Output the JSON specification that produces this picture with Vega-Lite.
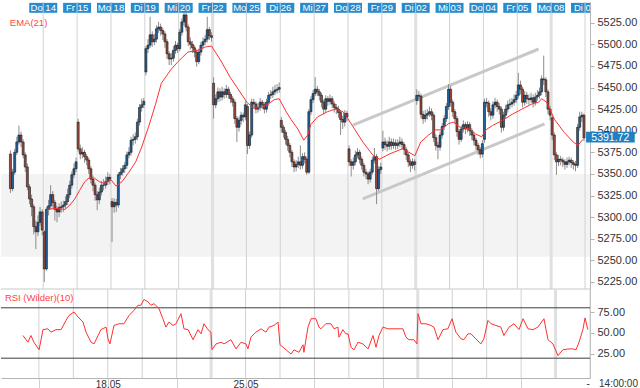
{
  "$schema": "https://vega.github.io/schema/vega-lite/v6.json",
  "padding": 0,
  "background": "white",
  "spacing": 0,
  "bounds": "flush",
  "config": {
    "view": {"stroke": null},
    "font": "Liberation Sans",
    "axis": {"labelFont": "Liberation Sans", "titleFont": "Liberation Sans", "labelOverlap": false, "labelSeparation": 0},
    "text": {"font": "Liberation Sans"}
  },
  "resolve": {"scale": {"x": "independent", "y": "independent"}},
  "datasets": {
    "days": [
      {"p": 15.5, "d": "Do 14"}, {"p": 31.5, "d": "Fr 15"}, {"p": 47.5, "d": "Mo 18"}, {"p": 63.5, "d": "Di 19"},
      {"p": 79.5, "d": "Mi 20"}, {"p": 95.5, "d": "Fr 22"}, {"p": 111.5, "d": "Mo 25"}, {"p": 127.5, "d": "Di 26"},
      {"p": 143.5, "d": "Mi 27"}, {"p": 159.5, "d": "Do 28"}, {"p": 175.5, "d": "Fr 29"}, {"p": 191.5, "d": "Di 02"},
      {"p": 207.5, "d": "Mi 03"}, {"p": 223.5, "d": "Do 04"}, {"p": 239.5, "d": "Fr 05"}, {"p": 255.5, "d": "Mo 08"},
      {"p": 271.5, "d": "Di 09"}
    ],
    "candles": [
      {"i":0,"o":5373,"h":5377,"l":5328,"c":5333},{"i":1,"o":5333,"h":5356,"l":5330,"c":5352},{"i":2,"o":5352,"h":5379,"l":5349,"c":5375},{"i":3,"o":5375,"h":5393,"l":5372,"c":5387},
      {"i":4,"o":5387,"h":5406,"l":5384,"c":5395},{"i":5,"o":5395,"h":5399,"l":5381,"c":5387},{"i":6,"o":5387,"h":5390,"l":5368,"c":5372},{"i":7,"o":5372,"h":5375,"l":5352,"c":5358},
      {"i":8,"o":5358,"h":5362,"l":5331,"c":5335},{"i":9,"o":5335,"h":5338,"l":5315,"c":5321},{"i":10,"o":5321,"h":5326,"l":5301,"c":5312},{"i":11,"o":5312,"h":5315,"l":5280,"c":5289},
      {"i":12,"o":5289,"h":5296,"l":5263,"c":5283},{"i":13,"o":5283,"h":5302,"l":5278,"c":5294},{"i":14,"o":5294,"h":5312,"l":5290,"c":5306},{"i":15,"o":5306,"h":5309,"l":5279,"c":5285},
      {"i":16,"o":5283,"h":5285,"l":5225,"c":5240},{"i":17,"o":5240,"h":5312,"l":5238,"c":5309},{"i":18,"o":5309,"h":5320,"l":5302,"c":5313},{"i":19,"o":5313,"h":5337,"l":5309,"c":5326},
      {"i":20,"o":5326,"h":5330,"l":5311,"c":5317},{"i":21,"o":5317,"h":5320,"l":5296,"c":5309},{"i":22,"o":5309,"h":5313,"l":5294,"c":5306},{"i":23,"o":5306,"h":5316,"l":5300,"c":5311},
      {"i":24,"o":5311,"h":5318,"l":5305,"c":5312},{"i":25,"o":5312,"h":5319,"l":5306,"c":5314},{"i":26,"o":5314,"h":5324,"l":5310,"c":5318},{"i":27,"o":5318,"h":5333,"l":5314,"c":5326},
      {"i":28,"o":5326,"h":5342,"l":5322,"c":5337},{"i":29,"o":5337,"h":5353,"l":5333,"c":5349},{"i":30,"o":5349,"h":5362,"l":5345,"c":5356},{"i":31,"o":5356,"h":5369,"l":5352,"c":5364},
      {"i":32,"o":5410,"h":5414,"l":5376,"c":5379},{"i":33,"o":5379,"h":5384,"l":5367,"c":5373},{"i":34,"o":5373,"h":5381,"l":5368,"c":5375},{"i":35,"o":5375,"h":5378,"l":5363,"c":5370},
      {"i":36,"o":5370,"h":5373,"l":5360,"c":5366},{"i":37,"o":5366,"h":5369,"l":5350,"c":5356},{"i":38,"o":5356,"h":5359,"l":5339,"c":5344},{"i":39,"o":5344,"h":5348,"l":5330,"c":5337},
      {"i":40,"o":5337,"h":5340,"l":5319,"c":5326},{"i":41,"o":5326,"h":5330,"l":5308,"c":5320},{"i":42,"o":5320,"h":5334,"l":5315,"c":5329},{"i":43,"o":5329,"h":5342,"l":5325,"c":5337},
      {"i":44,"o":5337,"h":5344,"l":5331,"c":5337},{"i":45,"o":5337,"h":5347,"l":5333,"c":5341},{"i":46,"o":5341,"h":5352,"l":5337,"c":5346},{"i":47,"o":5346,"h":5350,"l":5338,"c":5344},
      {"i":48,"o":5318,"h":5322,"l":5271,"c":5312},{"i":49,"o":5312,"h":5322,"l":5305,"c":5317},{"i":50,"o":5317,"h":5321,"l":5306,"c":5314},{"i":51,"o":5314,"h":5352,"l":5311,"c":5349},
      {"i":52,"o":5349,"h":5357,"l":5344,"c":5352},{"i":53,"o":5352,"h":5360,"l":5348,"c":5356},{"i":54,"o":5356,"h":5364,"l":5351,"c":5360},{"i":55,"o":5360,"h":5376,"l":5356,"c":5372},
      {"i":56,"o":5372,"h":5381,"l":5368,"c":5375},{"i":57,"o":5375,"h":5393,"l":5371,"c":5389},{"i":58,"o":5389,"h":5396,"l":5383,"c":5390},{"i":59,"o":5390,"h":5398,"l":5385,"c":5393},
      {"i":60,"o":5393,"h":5414,"l":5389,"c":5410},{"i":61,"o":5410,"h":5431,"l":5406,"c":5427},{"i":62,"o":5427,"h":5437,"l":5422,"c":5430},{"i":63,"o":5430,"h":5438,"l":5426,"c":5434},
      {"i":64,"o":5468,"h":5498,"l":5464,"c":5495},{"i":65,"o":5495,"h":5506,"l":5490,"c":5499},{"i":66,"o":5499,"h":5532,"l":5496,"c":5511},{"i":67,"o":5511,"h":5515,"l":5497,"c":5503},
      {"i":68,"o":5503,"h":5512,"l":5499,"c":5506},{"i":69,"o":5506,"h":5522,"l":5502,"c":5518},{"i":70,"o":5518,"h":5526,"l":5513,"c":5520},{"i":71,"o":5520,"h":5524,"l":5510,"c":5516},
      {"i":72,"o":5516,"h":5519,"l":5505,"c":5512},{"i":73,"o":5512,"h":5515,"l":5496,"c":5503},{"i":74,"o":5503,"h":5506,"l":5483,"c":5489},{"i":75,"o":5489,"h":5492,"l":5476,"c":5483},
      {"i":76,"o":5483,"h":5490,"l":5476,"c":5484},{"i":77,"o":5484,"h":5498,"l":5480,"c":5493},{"i":78,"o":5493,"h":5504,"l":5489,"c":5499},{"i":79,"o":5499,"h":5502,"l":5490,"c":5495},
      {"i":80,"o":5495,"h":5518,"l":5492,"c":5514},{"i":81,"o":5514,"h":5530,"l":5510,"c":5526},{"i":82,"o":5526,"h":5540,"l":5522,"c":5534},{"i":83,"o":5534,"h":5537,"l":5515,"c":5520},
      {"i":84,"o":5520,"h":5523,"l":5498,"c":5503},{"i":85,"o":5503,"h":5508,"l":5494,"c":5500},{"i":86,"o":5500,"h":5504,"l":5490,"c":5496},{"i":87,"o":5496,"h":5499,"l":5485,"c":5491},
      {"i":88,"o":5491,"h":5494,"l":5474,"c":5480},{"i":89,"o":5480,"h":5495,"l":5477,"c":5491},{"i":90,"o":5491,"h":5503,"l":5487,"c":5499},{"i":91,"o":5499,"h":5508,"l":5495,"c":5503},
      {"i":92,"o":5503,"h":5511,"l":5499,"c":5506},{"i":93,"o":5506,"h":5532,"l":5502,"c":5517},{"i":94,"o":5517,"h":5520,"l":5505,"c":5510},{"i":95,"o":5510,"h":5514,"l":5503,"c":5508},
      {"i":96,"o":5455,"h":5462,"l":5414,"c":5430},{"i":97,"o":5430,"h":5442,"l":5426,"c":5437},{"i":98,"o":5437,"h":5450,"l":5433,"c":5445},{"i":99,"o":5445,"h":5449,"l":5434,"c":5439},
      {"i":100,"o":5439,"h":5451,"l":5435,"c":5445},{"i":101,"o":5445,"h":5449,"l":5437,"c":5442},{"i":102,"o":5442,"h":5453,"l":5438,"c":5448},{"i":103,"o":5448,"h":5451,"l":5437,"c":5442},
      {"i":104,"o":5442,"h":5445,"l":5432,"c":5437},{"i":105,"o":5437,"h":5440,"l":5428,"c":5433},{"i":106,"o":5433,"h":5436,"l":5408,"c":5414},{"i":107,"o":5414,"h":5417,"l":5387,"c":5404},
      {"i":108,"o":5404,"h":5416,"l":5399,"c":5412},{"i":109,"o":5412,"h":5422,"l":5407,"c":5418},{"i":110,"o":5418,"h":5421,"l":5410,"c":5416},{"i":111,"o":5416,"h":5434,"l":5412,"c":5430},
      {"i":112,"o":5428,"h":5431,"l":5373,"c":5383},{"i":113,"o":5383,"h":5399,"l":5379,"c":5395},{"i":114,"o":5395,"h":5437,"l":5392,"c":5433},{"i":115,"o":5433,"h":5437,"l":5426,"c":5431},
      {"i":116,"o":5431,"h":5434,"l":5420,"c":5425},{"i":117,"o":5425,"h":5432,"l":5421,"c":5427},{"i":118,"o":5427,"h":5438,"l":5423,"c":5433},{"i":119,"o":5433,"h":5436,"l":5425,"c":5430},
      {"i":120,"o":5430,"h":5433,"l":5420,"c":5425},{"i":121,"o":5425,"h":5437,"l":5421,"c":5433},{"i":122,"o":5433,"h":5445,"l":5429,"c":5441},{"i":123,"o":5441,"h":5447,"l":5437,"c":5442},
      {"i":124,"o":5442,"h":5451,"l":5438,"c":5445},{"i":125,"o":5445,"h":5453,"l":5441,"c":5447},{"i":126,"o":5447,"h":5454,"l":5443,"c":5448},{"i":127,"o":5448,"h":5456,"l":5444,"c":5450},
      {"i":128,"o":5412,"h":5416,"l":5398,"c":5404},{"i":129,"o":5404,"h":5407,"l":5392,"c":5398},{"i":130,"o":5398,"h":5401,"l":5384,"c":5390},{"i":131,"o":5390,"h":5394,"l":5377,"c":5383},
      {"i":132,"o":5383,"h":5386,"l":5369,"c":5375},{"i":133,"o":5375,"h":5378,"l":5358,"c":5364},{"i":134,"o":5364,"h":5367,"l":5352,"c":5358},{"i":135,"o":5358,"h":5366,"l":5353,"c":5361},
      {"i":136,"o":5361,"h":5370,"l":5357,"c":5364},{"i":137,"o":5364,"h":5383,"l":5355,"c":5360},{"i":138,"o":5360,"h":5374,"l":5356,"c":5370},{"i":139,"o":5370,"h":5375,"l":5362,"c":5367},
      {"i":140,"o":5367,"h":5370,"l":5349,"c":5352},{"i":141,"o":5352,"h":5425,"l":5350,"c":5422},{"i":142,"o":5422,"h":5440,"l":5418,"c":5436},{"i":143,"o":5436,"h":5447,"l":5432,"c":5443},
      {"i":144,"o":5443,"h":5462,"l":5440,"c":5448},{"i":145,"o":5448,"h":5452,"l":5440,"c":5445},{"i":146,"o":5445,"h":5448,"l":5435,"c":5441},{"i":147,"o":5441,"h":5444,"l":5427,"c":5433},
      {"i":148,"o":5433,"h":5436,"l":5419,"c":5425},{"i":149,"o":5425,"h":5441,"l":5421,"c":5437},{"i":150,"o":5437,"h":5440,"l":5429,"c":5434},{"i":151,"o":5434,"h":5442,"l":5430,"c":5437},
      {"i":152,"o":5437,"h":5440,"l":5426,"c":5431},{"i":153,"o":5431,"h":5434,"l":5421,"c":5427},{"i":154,"o":5427,"h":5431,"l":5419,"c":5425},{"i":155,"o":5425,"h":5429,"l":5415,"c":5421},
      {"i":156,"o":5421,"h":5424,"l":5395,"c":5413},{"i":157,"o":5413,"h":5417,"l":5402,"c":5410},{"i":158,"o":5410,"h":5424,"l":5405,"c":5420},{"i":159,"o":5420,"h":5423,"l":5411,"c":5416},
      {"i":160,"o":5379,"h":5383,"l":5359,"c":5364},{"i":161,"o":5364,"h":5367,"l":5347,"c":5360},{"i":162,"o":5360,"h":5369,"l":5355,"c":5364},{"i":163,"o":5364,"h":5377,"l":5360,"c":5372},
      {"i":164,"o":5372,"h":5380,"l":5368,"c":5375},{"i":165,"o":5375,"h":5378,"l":5362,"c":5367},{"i":166,"o":5367,"h":5370,"l":5355,"c":5360},{"i":167,"o":5360,"h":5363,"l":5347,"c":5352},
      {"i":168,"o":5352,"h":5356,"l":5344,"c":5350},{"i":169,"o":5350,"h":5353,"l":5338,"c":5344},{"i":170,"o":5344,"h":5356,"l":5340,"c":5352},{"i":171,"o":5352,"h":5370,"l":5349,"c":5366},
      {"i":172,"o":5366,"h":5380,"l":5362,"c":5370},{"i":173,"o":5370,"h":5373,"l":5315,"c":5333},{"i":174,"o":5333,"h":5359,"l":5330,"c":5355},{"i":175,"o":5355,"h":5363,"l":5350,"c":5358},
      {"i":176,"o":5380,"h":5400,"l":5376,"c":5387},{"i":177,"o":5387,"h":5392,"l":5378,"c":5384},{"i":178,"o":5384,"h":5389,"l":5376,"c":5382},{"i":179,"o":5382,"h":5393,"l":5378,"c":5387},
      {"i":180,"o":5387,"h":5391,"l":5378,"c":5383},{"i":181,"o":5383,"h":5391,"l":5379,"c":5386},{"i":182,"o":5386,"h":5390,"l":5378,"c":5383},{"i":183,"o":5383,"h":5390,"l":5379,"c":5385},
      {"i":184,"o":5385,"h":5393,"l":5381,"c":5387},{"i":185,"o":5387,"h":5391,"l":5379,"c":5384},{"i":186,"o":5384,"h":5387,"l":5372,"c":5378},{"i":187,"o":5378,"h":5381,"l":5366,"c":5372},
      {"i":188,"o":5372,"h":5375,"l":5358,"c":5364},{"i":189,"o":5364,"h":5367,"l":5352,"c":5360},{"i":190,"o":5360,"h":5368,"l":5356,"c":5364},{"i":191,"o":5364,"h":5367,"l":5354,"c":5361},
      {"i":192,"o":5435,"h":5448,"l":5430,"c":5441},{"i":193,"o":5441,"h":5446,"l":5434,"c":5440},{"i":194,"o":5440,"h":5443,"l":5414,"c":5419},{"i":195,"o":5419,"h":5423,"l":5408,"c":5414},
      {"i":196,"o":5414,"h":5424,"l":5410,"c":5418},{"i":197,"o":5418,"h":5425,"l":5413,"c":5420},{"i":198,"o":5420,"h":5428,"l":5416,"c":5422},{"i":199,"o":5422,"h":5426,"l":5412,"c":5418},
      {"i":200,"o":5418,"h":5421,"l":5387,"c":5392},{"i":201,"o":5392,"h":5396,"l":5377,"c":5383},{"i":202,"o":5383,"h":5387,"l":5367,"c":5381},{"i":203,"o":5381,"h":5399,"l":5377,"c":5395},
      {"i":204,"o":5395,"h":5409,"l":5391,"c":5405},{"i":205,"o":5405,"h":5418,"l":5401,"c":5414},{"i":206,"o":5414,"h":5432,"l":5410,"c":5428},{"i":207,"o":5428,"h":5454,"l":5424,"c":5448},
      {"i":208,"o":5448,"h":5452,"l":5428,"c":5433},{"i":209,"o":5433,"h":5436,"l":5416,"c":5422},{"i":210,"o":5422,"h":5425,"l":5408,"c":5414},{"i":211,"o":5414,"h":5417,"l":5393,"c":5399},
      {"i":212,"o":5399,"h":5402,"l":5384,"c":5390},{"i":213,"o":5390,"h":5406,"l":5387,"c":5402},{"i":214,"o":5402,"h":5412,"l":5398,"c":5407},{"i":215,"o":5407,"h":5410,"l":5396,"c":5402},
      {"i":216,"o":5402,"h":5411,"l":5398,"c":5407},{"i":217,"o":5407,"h":5410,"l":5394,"c":5400},{"i":218,"o":5400,"h":5403,"l":5389,"c":5395},{"i":219,"o":5395,"h":5398,"l":5383,"c":5389},
      {"i":220,"o":5389,"h":5392,"l":5377,"c":5383},{"i":221,"o":5383,"h":5386,"l":5372,"c":5378},{"i":222,"o":5378,"h":5381,"l":5368,"c":5373},{"i":223,"o":5373,"h":5389,"l":5369,"c":5385},
      {"i":224,"o":5390,"h":5437,"l":5386,"c":5433},{"i":225,"o":5433,"h":5438,"l":5427,"c":5432},{"i":226,"o":5432,"h":5435,"l":5416,"c":5422},{"i":227,"o":5422,"h":5426,"l":5412,"c":5418},
      {"i":228,"o":5418,"h":5434,"l":5414,"c":5430},{"i":229,"o":5430,"h":5438,"l":5426,"c":5433},{"i":230,"o":5433,"h":5436,"l":5422,"c":5428},{"i":231,"o":5428,"h":5432,"l":5419,"c":5425},
      {"i":232,"o":5425,"h":5428,"l":5398,"c":5404},{"i":233,"o":5404,"h":5422,"l":5400,"c":5418},{"i":234,"o":5418,"h":5430,"l":5414,"c":5425},{"i":235,"o":5425,"h":5435,"l":5421,"c":5430},
      {"i":236,"o":5430,"h":5437,"l":5425,"c":5431},{"i":237,"o":5431,"h":5438,"l":5427,"c":5433},{"i":238,"o":5433,"h":5442,"l":5429,"c":5436},{"i":239,"o":5436,"h":5446,"l":5432,"c":5441},
      {"i":240,"o":5441,"h":5467,"l":5437,"c":5453},{"i":241,"o":5453,"h":5458,"l":5442,"c":5448},{"i":242,"o":5448,"h":5451,"l":5427,"c":5433},{"i":243,"o":5433,"h":5446,"l":5429,"c":5441},
      {"i":244,"o":5441,"h":5445,"l":5431,"c":5437},{"i":245,"o":5437,"h":5442,"l":5430,"c":5436},{"i":246,"o":5436,"h":5444,"l":5432,"c":5438},{"i":247,"o":5438,"h":5442,"l":5427,"c":5433},
      {"i":248,"o":5433,"h":5444,"l":5429,"c":5439},{"i":249,"o":5439,"h":5447,"l":5435,"c":5441},{"i":250,"o":5441,"h":5450,"l":5437,"c":5445},{"i":251,"o":5445,"h":5464,"l":5441,"c":5460},
      {"i":252,"o":5460,"h":5487,"l":5453,"c":5459},{"i":253,"o":5459,"h":5462,"l":5439,"c":5445},{"i":254,"o":5445,"h":5448,"l":5419,"c":5425},{"i":255,"o":5425,"h":5429,"l":5412,"c":5418},
      {"i":256,"o":5415,"h":5418,"l":5389,"c":5395},{"i":257,"o":5395,"h":5398,"l":5366,"c":5372},{"i":258,"o":5372,"h":5375,"l":5349,"c":5364},{"i":259,"o":5364,"h":5372,"l":5359,"c":5367},
      {"i":260,"o":5367,"h":5371,"l":5360,"c":5366},{"i":261,"o":5366,"h":5369,"l":5358,"c":5364},{"i":262,"o":5364,"h":5367,"l":5355,"c":5361},{"i":263,"o":5361,"h":5369,"l":5357,"c":5364},
      {"i":264,"o":5364,"h":5370,"l":5360,"c":5366},{"i":265,"o":5366,"h":5369,"l":5357,"c":5363},{"i":266,"o":5363,"h":5366,"l":5355,"c":5361},{"i":267,"o":5361,"h":5365,"l":5353,"c":5360},
      {"i":268,"o":5360,"h":5408,"l":5357,"c":5404},{"i":269,"o":5404,"h":5422,"l":5400,"c":5416},{"i":270,"o":5416,"h":5422,"l":5410,"c":5418},{"i":271,"o":5418,"h":5420,"l":5388,"c":5391.72}
    ],
    "ema": [
      {"i":17.4,"v":5309},{"i":21.1,"v":5310},{"i":25.8,"v":5309},{"i":28.1,"v":5314},{"i":30.4,"v":5321},{"i":32.7,"v":5331},{"i":35.1,"v":5341},{"i":37.4,"v":5346},
      {"i":39.7,"v":5345},{"i":42.0,"v":5341},{"i":44.3,"v":5339},{"i":47.6,"v":5343},{"i":49.9,"v":5336},{"i":52.7,"v":5341},{"i":56.0,"v":5352},{"i":59.2,"v":5364},
      {"i":62.0,"v":5381},{"i":65.2,"v":5404},{"i":68.5,"v":5430},{"i":71.3,"v":5455},{"i":75.9,"v":5471},{"i":79.2,"v":5480},{"i":83.8,"v":5491},{"i":88.5,"v":5493},
      {"i":92.2,"v":5497},{"i":95.0,"v":5498},{"i":99.2,"v":5482},{"i":103.8,"v":5462},{"i":107.1,"v":5450},{"i":111.7,"v":5433},{"i":114.9,"v":5426},{"i":118.7,"v":5427},
      {"i":121.9,"v":5431},{"i":124.7,"v":5436},{"i":127.0,"v":5437},{"i":130.3,"v":5422},{"i":132.6,"v":5413},{"i":135.8,"v":5402},{"i":138.6,"v":5389},{"i":140.5,"v":5395},
      {"i":141.9,"v":5407},{"i":145.1,"v":5416},{"i":149.8,"v":5422},{"i":153.5,"v":5425},{"i":157.2,"v":5422},{"i":160.5,"v":5410},{"i":166.5,"v":5387},{"i":171.2,"v":5372},
      {"i":174.4,"v":5367},{"i":179.0,"v":5373},{"i":185.1,"v":5379},{"i":188.3,"v":5375},{"i":191.1,"v":5371},{"i":193.9,"v":5387},{"i":197.6,"v":5395},{"i":200.9,"v":5401},
      {"i":203.2,"v":5401},{"i":206.9,"v":5408},{"i":209.2,"v":5410},{"i":212.5,"v":5404},{"i":217.1,"v":5402},{"i":219.9,"v":5396},{"i":222.7,"v":5393},{"i":224.6,"v":5401},
      {"i":227.8,"v":5406},{"i":232.5,"v":5412},{"i":237.1,"v":5419},{"i":241.7,"v":5425},{"i":246.4,"v":5431},{"i":249.6,"v":5433},{"i":251.0,"v":5437},{"i":253.4,"v":5433},
      {"i":257.1,"v":5413},{"i":261.7,"v":5398},{"i":265.9,"v":5387},{"i":268.2,"v":5383},{"i":270.5,"v":5390}
    ],
    "rsi": [
      {"i":8.1,"r":47},{"i":10.4,"r":39},{"i":11.8,"r":47},{"i":13.2,"r":39},{"i":15.6,"r":30},{"i":17.4,"r":54},{"i":19.7,"r":55},{"i":21.1,"r":51},
      {"i":23.4,"r":54},{"i":25.8,"r":54},{"i":28.1,"r":65},{"i":29.5,"r":71},{"i":31.8,"r":75},{"i":33.7,"r":69},{"i":36.0,"r":63},{"i":37.4,"r":51},
      {"i":39.7,"r":39},{"i":41.1,"r":37},{"i":43.0,"r":47},{"i":44.3,"r":54},{"i":46.7,"r":57},{"i":47.6,"r":43},{"i":48.5,"r":37},{"i":50.4,"r":59},
      {"i":52.7,"r":61},{"i":55.0,"r":61},{"i":57.4,"r":71},{"i":59.7,"r":77},{"i":61.5,"r":83},{"i":62.9,"r":83},{"i":64.3,"r":90},{"i":66.2,"r":87},
      {"i":67.6,"r":83},{"i":69.0,"r":85},{"i":71.3,"r":79},{"i":73.1,"r":67},{"i":74.5,"r":57},{"i":75.9,"r":63},{"i":77.8,"r":59},{"i":79.2,"r":61},
      {"i":81.5,"r":73},{"i":82.9,"r":55},{"i":84.8,"r":54},{"i":87.1,"r":42},{"i":89.4,"r":54},{"i":90.8,"r":49},{"i":92.2,"r":61},{"i":94.0,"r":54},
      {"i":95.4,"r":51},{"i":95.9,"r":30},{"i":97.8,"r":37},{"i":100.1,"r":39},{"i":101.5,"r":37},{"i":104.7,"r":42},{"i":107.1,"r":31},{"i":109.4,"r":39},
      {"i":111.7,"r":37},{"i":112.6,"r":31},{"i":114.0,"r":45},{"i":116.3,"r":51},{"i":118.7,"r":55},{"i":121.0,"r":51},{"i":122.4,"r":57},{"i":124.7,"r":59},
      {"i":126.6,"r":63},{"i":127.5,"r":36},{"i":130.3,"r":30},{"i":132.6,"r":25},{"i":134.0,"r":30},{"i":136.3,"r":27},{"i":138.2,"r":36},{"i":138.6,"r":27},
      {"i":140.5,"r":57},{"i":141.9,"r":67},{"i":144.2,"r":67},{"i":145.6,"r":57},{"i":146.5,"r":55},{"i":148.8,"r":61},{"i":151.2,"r":61},{"i":152.6,"r":55},
      {"i":154.4,"r":57},{"i":154.9,"r":45},{"i":156.7,"r":54},{"i":158.1,"r":49},{"i":159.1,"r":49},{"i":160.5,"r":33},{"i":161.9,"r":30},{"i":163.7,"r":39},
      {"i":166.0,"r":37},{"i":168.4,"r":31},{"i":170.7,"r":47},{"i":172.1,"r":33},{"i":173.5,"r":47},{"i":175.3,"r":57},{"i":177.6,"r":55},{"i":180.0,"r":55},
      {"i":182.3,"r":55},{"i":184.6,"r":55},{"i":186.0,"r":45},{"i":187.4,"r":42},{"i":189.7,"r":42},{"i":191.1,"r":37},{"i":191.6,"r":73},{"i":193.0,"r":61},
      {"i":195.3,"r":61},{"i":197.6,"r":59},{"i":199.0,"r":57},{"i":200.9,"r":42},{"i":203.2,"r":54},{"i":205.5,"r":55},{"i":207.4,"r":67},{"i":209.2,"r":51},
      {"i":211.6,"r":43},{"i":212.9,"r":42},{"i":214.8,"r":49},{"i":216.2,"r":49},{"i":218.5,"r":43},{"i":220.8,"r":37},{"i":222.2,"r":43},{"i":224.1,"r":65},
      {"i":225.5,"r":61},{"i":227.8,"r":59},{"i":230.1,"r":57},{"i":231.5,"r":47},{"i":233.9,"r":57},{"i":236.2,"r":61},{"i":238.5,"r":54},{"i":240.4,"r":67},
      {"i":242.7,"r":55},{"i":245.0,"r":54},{"i":247.3,"r":57},{"i":250.1,"r":67},{"i":252.0,"r":42},{"i":254.3,"r":37},{"i":256.6,"r":23},{"i":258.9,"r":30},
      {"i":261.3,"r":31},{"i":263.6,"r":31},{"i":265.0,"r":30},{"i":266.4,"r":39},{"i":268.2,"r":54},{"i":269.2,"r":68},{"i":270.5,"r":54}
    ]
  },
  "vconcat": [
    {
      "width": 589,
      "height": 287,
      "encoding": {
        "y": {"type": "quantitative",
              "scale": {"domain": [5216.8, 5549], "nice": false, "zero": false},
              "axis": {"orient": "right", "values": [5225,5250,5275,5300,5325,5350,5375,5400,5425,5450,5475,5500,5525],
                       "format": ".2f", "title": null, "grid": false, "domainColor": "#b4b4b4", "tickColor": "#b4b4b4",
                       "tickSize": 4, "labelPadding": 3, "labelFontSize": 11, "labelColor": "#333333",
                       "labelOverlap": false, "labelSeparation": 0}},
        "x": {"type": "quantitative",
              "scale": {"domain": [-2.1, 271.5], "nice": false, "zero": false},
              "axis": null}
      },
      "layer": [
        {
          "data": {"values": [{"lo": 5254, "hi": 5350}]},
          "mark": {"type": "rect", "color": "#f3f3f3"},
          "encoding": {
            "x": null,
            "y": {"field": "lo"},
            "y2": {"field": "hi"}
          }
        },
        {
          "data": {"name": "days"},
          "mark": {"type": "rule"},
          "encoding": {
            "x": {"field": "p"},
            "y": null,
            "color": {"condition": {"test": "datum.p == 95.5 || datum.p == 191.5 || datum.p == 255.5", "value": "#e0e0e0"}, "value": "#d2d2d2"},
            "strokeWidth": {"condition": {"test": "datum.p == 95.5 || datum.p == 191.5 || datum.p == 255.5", "value": 3}, "value": 1}
          }
        },
        {
          "data": {"values": [{"b": 5216.8}]},
          "mark": {"type": "rule", "color": "#c8c8c8", "strokeWidth": 1},
          "encoding": {"x": null, "y": {"field": "b"}}
        },
        {
          "data": {"values": [
            {"i": 161.9, "p": 5406.6, "g": "oben"}, {"i": 249.6, "p": 5494.6, "g": "oben"},
            {"i": 166.5, "p": 5321, "g": "unten"}, {"i": 252.4, "p": 5407.8, "g": "unten"}
          ]},
          "mark": {"type": "line", "color": "#c8c8c8", "strokeWidth": 3},
          "encoding": {
            "x": {"field": "i"},
            "y": {"field": "p"},
            "detail": {"field": "g"}
          }
        },
        {
          "data": {"name": "candles"},
          "mark": {"type": "rule", "color": "#8c8c8c", "strokeWidth": 1},
          "encoding": {
            "x": {"field": "i"},
            "y": {"field": "l"},
            "y2": {"field": "h"}
          }
        },
        {
          "data": {"name": "candles"},
          "mark": {"type": "bar", "width": 2, "stroke": "#151515", "strokeWidth": 0.6},
          "encoding": {
            "x": {"field": "i"},
            "y": {"field": "o"},
            "y2": {"field": "c"},
            "color": {"condition": {"test": "datum.c >= datum.o", "value": "#1f639e"}, "value": "#9e4a3d"}
          }
        },
        {
          "data": {"name": "ema"},
          "mark": {"type": "line", "color": "#ff3030", "strokeWidth": 1},
          "encoding": {
            "x": {"field": "i"},
            "y": {"field": "v"}
          }
        },
        {
          "data": {"values": [{"i": -0.3, "p": 5524.6, "t": "EMA(21)"}]},
          "mark": {"type": "text", "align": "left", "baseline": "middle", "color": "#ff4545", "fontSize": 9.5},
          "encoding": {
            "x": {"field": "i"},
            "y": {"field": "p"},
            "text": {"field": "t"}
          }
        },
        {
          "data": {"name": "days"},
          "mark": {"type": "bar", "width": 28, "color": "#298bcb", "clip": true},
          "encoding": {
            "x": {"field": "p"},
            "y": {"datum": 5548},
            "y2": {"datum": 5536.5}
          }
        },
        {
          "data": {"name": "days"},
          "mark": {"type": "rule", "color": "#b9d3e6", "clip": true},
          "encoding": {
            "x": {"field": "p"},
            "y": {"datum": 5548},
            "y2": {"datum": 5536.5}
          }
        },
        {
          "data": {"name": "days"},
          "mark": {"type": "text", "color": "white", "fontSize": 9.5, "baseline": "middle", "clip": true},
          "encoding": {
            "x": {"field": "p"},
            "y": {"datum": 5542.3},
            "text": {"field": "d"}
          }
        },
        {
          "data": {"values": [{"a": 1}]},
          "mark": {"type": "rect", "color": "#1f80c2"},
          "encoding": {
            "x": {"datum": 272},
            "x2": {"datum": 295},
            "y": {"datum": 5386.3},
            "y2": {"datum": 5398.8}
          }
        },
        {
          "data": {"name": "candles"},
          "transform": [{"filter": "datum.i == 271"}],
          "mark": {"type": "text", "align": "left", "baseline": "middle", "color": "white", "fontSize": 10.5},
          "encoding": {
            "x": {"datum": 274.5},
            "y": {"field": "c"},
            "text": {"field": "c", "type": "quantitative", "format": ".2f"}
          }
        }
      ]
    },
    {
      "width": 589,
      "height": 89,
      "layer": [
        {
          "data": {"name": "days"},
          "mark": {"type": "rule"},
          "encoding": {
            "x": {"field": "p", "type": "quantitative"},
            "color": {"condition": {"test": "datum.p == 95.5 || datum.p == 191.5 || datum.p == 255.5", "value": "#e0e0e0"}, "value": "#d2d2d2"},
            "strokeWidth": {"condition": {"test": "datum.p == 95.5 || datum.p == 191.5 || datum.p == 255.5", "value": 3}, "value": 1}
          }
        },
        {
          "data": {"values": [{"lv": 80}, {"lv": 20}]},
          "mark": {"type": "rule", "color": "#3c3c3c", "strokeWidth": 1},
          "encoding": {
            "y": {"field": "lv", "type": "quantitative",
                  "scale": {"domain": [-3.6, 102.4], "nice": false, "zero": false},
                  "axis": {"orient": "right", "values": [25, 50, 75],
                           "format": ".2f",
                           "title": null, "grid": false, "domainColor": "#b4b4b4", "tickColor": "#b4b4b4",
                           "tickSize": 4, "labelPadding": 3, "labelFontSize": 11, "labelColor": "#333333",
                           "labelOverlap": false, "labelSeparation": 0}}
          }
        },
        {
          "data": {"name": "rsi"},
          "mark": {"type": "line", "color": "#ff3030", "strokeWidth": 1},
          "encoding": {
            "x": {"field": "i", "type": "quantitative",
                  "scale": {"domain": [-2.1, 271.5], "nice": false, "zero": false},
                  "axis": {"orient": "bottom",
                           "values": [15.5,31.5,47.5,63.5,79.5,95.5,111.5,127.5,143.5,159.5,175.5,191.5,207.5,223.5,239.5,255.5],
                           "labelExpr": "datum.value == 47.5 ? '18.05' : datum.value == 111.5 ? '25.05' : datum.value == 191.5 ? '02.06' : datum.value == 255.5 ? '08.06' : ''",
                           "title": null, "grid": false, "domainColor": "#b4b4b4",
                           "tickSize": 12,
                           "tickColor": {"condition": {"test": "datum.value == 95.5 || datum.value == 191.5 || datum.value == 255.5", "value": "#e0e0e0"}, "value": "#d2d2d2"},
                           "tickWidth": {"condition": {"test": "datum.value == 95.5 || datum.value == 191.5 || datum.value == 255.5", "value": 3}, "value": 1},
                           "labelBaseline": "middle", "labelPadding": -6, "labelFontSize": 10, "labelColor": "#333333",
                           "labelOverlap": false, "labelFlush": false}},
            "y": {"field": "r", "type": "quantitative"}
          }
        },
        {
          "data": {"values": [{"i": -0.3, "r": 91.7, "t": "RSI (Wilder)(10)"}]},
          "mark": {"type": "text", "align": "left", "baseline": "middle", "color": "#ff4545", "fontSize": 9.5},
          "encoding": {
            "x": {"field": "i", "type": "quantitative"},
            "y": {"field": "r", "type": "quantitative"},
            "text": {"field": "t"}
          }
        },
        {
          "data": {"values": [{"i": 269.9, "r": -10.7, "t": "-"}, {"i": 275.7, "r": -10.7, "t": "14:00:00"}]},
          "mark": {"type": "text", "align": "left", "baseline": "middle", "color": "#333333", "fontSize": 10},
          "encoding": {
            "x": {"field": "i", "type": "quantitative"},
            "y": {"field": "r", "type": "quantitative"},
            "text": {"field": "t"}
          }
        }
      ]
    }
  ]
}
